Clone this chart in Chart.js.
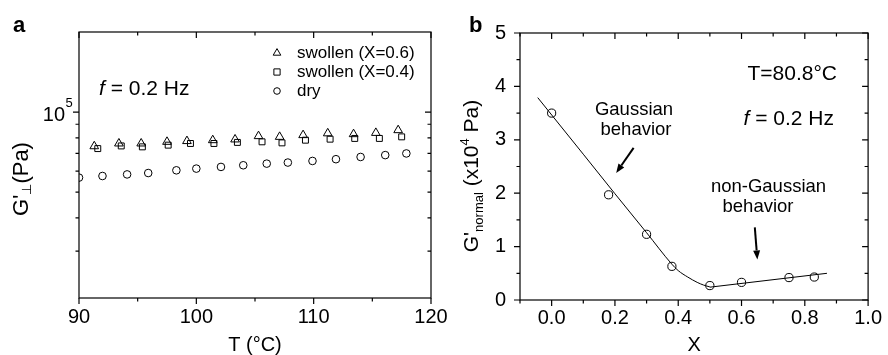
<!DOCTYPE html>
<html>
<head>
<meta charset="utf-8">
<script src="https://cdn.jsdelivr.net/npm/chart.js@4.4.1/dist/chart.umd.min.js"></script>
<style>
  body { margin: 0; background: #fff; }
  #wrap { position: relative; width: 888px; height: 355px; overflow: hidden; }
  #chartA { position: absolute; left: 0; top: 0; }
  #chartB { position: absolute; left: 444px; top: 0; }
</style>
</head>
<body>
<div id="wrap">
  <canvas id="chartA" width="470" height="355"></canvas>
  <canvas id="chartB" width="444" height="355"></canvas>
</div>
<script>
var FONT = "'Liberation Sans', Arial, Helvetica, sans-serif";

// (a) G'⊥ against temperature, f = 0.2 Hz
var tempX06 = [91.3, 93.4, 95.3, 97.5, 99.2, 101.4, 103.3, 105.3, 107.1, 109.1, 111.2, 113.4, 115.3, 117.2];
var gX06 = [74400, 76200, 76200, 77300, 77800, 78400, 78900, 81200, 80700, 81900, 83200, 82600, 83500, 85500];
var tempX04 = [91.6, 93.6, 95.4, 97.6, 99.5, 101.5, 103.5, 105.6, 107.3, 109.3, 111.4, 113.5, 115.6, 117.5];
var gX04 = [72900, 74600, 74000, 75100, 76200, 76200, 76900, 77300, 76600, 78400, 79100, 79600, 79600, 80700];
var tempDry = [90.0, 92.0, 94.1, 95.9, 98.3, 100.0, 102.1, 104.0, 106.0, 107.8, 109.9, 111.9, 114.0, 116.1, 117.9];
var gDry = [56700, 57500, 58300, 59000, 60400, 61300, 62200, 63100, 64000, 64600, 65500, 66500, 67800, 68900, 69900];

// (b) G'normal (x10^4 Pa) against X, T = 80.8 °C
var xFrac = [0.0, 0.18, 0.30, 0.38, 0.50, 0.60, 0.75, 0.83];
var gNormal = [3.5, 1.97, 1.23, 0.63, 0.27, 0.33, 0.42, 0.43];
var gaussFitX = [-0.044, 0.10, 0.20, 0.30, 0.38, 0.40, 0.43, 0.46, 0.48, 0.50];
var gaussFitY = [3.79, 2.73, 1.99, 1.26, 0.67, 0.55, 0.43, 0.33, 0.28, 0.245];
var nonGaussFitX = [0.50, 0.87];
var nonGaussFitY = [0.24, 0.50];

// axis ticks
var tTicks = [90, 100, 110, 120];
var tMinor = [95, 105, 115];
var gMajorA = [100000];
var gMinorA = [30000, 40000, 50000, 60000, 70000, 80000, 90000];
var xTicksB = [0.0, 0.2, 0.4, 0.6, 0.8, 1.0];
var xMinorB = [-0.1, 0.1, 0.3, 0.5, 0.7, 0.9];
var yTicksB = [0, 1, 2, 3, 4, 5];
var yMinorB = [0.5, 1.5, 2.5, 3.5, 4.5];

Chart.defaults.font.family = FONT;
Chart.defaults.color = '#000';

function pts(xs, ys) {
  return xs.map(function (x, i) { return { x: x, y: ys[i] }; });
}

function setTicks(list) {
  return function (scale) {
    scale.ticks = list.map(function (v) { return { value: v }; });
  };
}

// box frame with outward ticks on bottom/left and inward ticks on top/right
function frameTicks(t) {
  return {
    id: 'frameTicks',
    afterDatasetsDraw: function (chart) {
      var ctx = chart.ctx, a = chart.chartArea;
      var xs = chart.scales.x, ys = chart.scales.y;
      ctx.save();
      ctx.strokeStyle = '#000';
      ctx.lineWidth = 1.2;
      ctx.strokeRect(a.left, a.top, a.right - a.left, a.bottom - a.top);
      ctx.beginPath();
      function xTick(v, len) {
        var p = xs.getPixelForValue(v);
        ctx.moveTo(p, a.bottom); ctx.lineTo(p, a.bottom + len);
        ctx.moveTo(p, a.top); ctx.lineTo(p, a.top + len);
      }
      function yTick(v, len) {
        var p = ys.getPixelForValue(v);
        ctx.moveTo(a.left - len, p); ctx.lineTo(a.left, p);
        ctx.moveTo(a.right - len, p); ctx.lineTo(a.right, p);
      }
      t.xMajor.forEach(function (v) { xTick(v, 6); });
      t.xMinor.forEach(function (v) { xTick(v, 3.5); });
      t.yMajor.forEach(function (v) { yTick(v, 6); });
      t.yMinor.forEach(function (v) { yTick(v, 3.5); });
      ctx.stroke();
      ctx.restore();
    }
  };
}

// text made of runs with their own size / shift / style
function drawRuns(ctx, runs, x, y, align, vertical) {
  ctx.save();
  ctx.translate(x, y);
  if (vertical) ctx.rotate(-Math.PI / 2);
  var total = 0;
  runs.forEach(function (r) {
    ctx.font = (r.style || '') + ' ' + r.size + 'px ' + FONT;
    r.w = ctx.measureText(r.t).width;
    total += r.w;
  });
  var cx = align === 'center' ? -total / 2 : (align === 'right' ? -total : 0);
  ctx.fillStyle = '#000';
  ctx.textBaseline = 'alphabetic';
  ctx.textAlign = 'left';
  runs.forEach(function (r) {
    ctx.font = (r.style || '') + ' ' + r.size + 'px ' + FONT;
    ctx.fillText(r.t, cx, r.dy || 0);
    cx += r.w;
  });
  ctx.restore();
}

function arrow(ctx, x1, y1, x2, y2) {
  var ang = Math.atan2(y2 - y1, x2 - x1), len = 9, hw = 3.5;
  var bx = x2 - Math.cos(ang) * len, by = y2 - Math.sin(ang) * len;
  ctx.save();
  ctx.strokeStyle = '#000';
  ctx.fillStyle = '#000';
  ctx.lineWidth = 2;
  ctx.beginPath();
  ctx.moveTo(x1, y1); ctx.lineTo(bx, by);
  ctx.stroke();
  ctx.beginPath();
  ctx.moveTo(x2, y2);
  ctx.lineTo(bx + Math.sin(ang) * hw, by - Math.cos(ang) * hw);
  ctx.lineTo(bx - Math.sin(ang) * hw, by + Math.cos(ang) * hw);
  ctx.closePath();
  ctx.fill();
  ctx.restore();
}

function marker(style, r) {
  return {
    pointStyle: style, pointRadius: r, pointHoverRadius: r,
    pointBorderColor: '#000', pointBackgroundColor: 'rgba(0,0,0,0)',
    pointBorderWidth: 1, borderColor: '#000', clip: 0
  };
}

var axisFont = { family: FONT, size: 20 };
var titleFont = { family: FONT, size: 20, lineHeight: 1 };

var notesA = {
  id: 'notesA',
  afterDraw: function (chart) {
    var ctx = chart.ctx, ys = chart.scales.y;
    drawRuns(ctx, [{ t: 'a', size: 22, style: 'bold' }], 13, 32, 'left');
    drawRuns(ctx, [{ t: 'f', size: 21, style: 'italic' }, { t: ' = 0.2 Hz', size: 21 }], 99, 95, 'left');
    // 10^5 tick label
    var p = ys.getPixelForValue(gMajorA[0]);
    drawRuns(ctx, [{ t: '10', size: 20 }], 65, p + 8.5, 'right');
    drawRuns(ctx, [{ t: '5', size: 13 }], 65.5, p - 5, 'left');
    // y title
    drawRuns(ctx, [{ t: "G'", size: 22 }, { t: '\u22A5', size: 13, dy: 3 }, { t: '(Pa)', size: 22 }], 28, 179, 'center', true);
    // legend
    var items = chart.data.datasets;
    items.forEach(function (ds, i) {
      var y = 58 + i * 19;
      ctx.save();
      ctx.strokeStyle = '#000';
      ctx.fillStyle = 'rgba(0,0,0,0)';
      ctx.lineWidth = 1;
      Chart.helpers.drawPoint(ctx, { pointStyle: ds.pointStyle, radius: ds.pointStyle === 'circle' ? 3.3 : 4.4, rotation: 0, borderWidth: 1 }, 277, y - 5);
      ctx.restore();
      drawRuns(ctx, [{ t: ds.label, size: 17 }], 297, y, 'left');
    });
  }
};

new Chart(document.getElementById('chartA'), {
  type: 'scatter',
  data: {
    datasets: [
      Object.assign({ label: 'swollen (X=0.6)', data: pts(tempX06, gX06) }, marker('triangle', 5)),
      Object.assign({ label: 'swollen (X=0.4)', data: pts(tempX04, gX04) }, marker('rect', 4.2)),
      Object.assign({ label: 'dry', data: pts(tempDry, gDry) }, marker('circle', 3.8))
    ]
  },
  options: {
    responsive: false, animation: false, devicePixelRatio: 1,
    layout: { padding: { left: 0, top: 32, right: 39, bottom: 0 } },
    plugins: { legend: { display: false }, tooltip: { enabled: false } },
    scales: {
      x: {
        type: 'linear', min: 90, max: 120,
        afterFit: function (s) { s.height = 57; },
        afterBuildTicks: setTicks(tTicks),
        grid: { display: false, drawTicks: false }, border: { display: false },
        ticks: { font: axisFont, color: '#000', padding: 7, maxRotation: 0 },
        title: { display: true, text: 'T (\u00B0C)', font: titleFont, color: '#000', padding: { top: 0, bottom: 0 } }
      },
      y: {
        type: 'logarithmic', min: 20000, max: 200000,
        afterFit: function (s) { s.width = 79; },
        grid: { display: false, drawTicks: false }, border: { display: false },
        ticks: { display: false }
      }
    }
  },
  plugins: [frameTicks({ xMajor: tTicks, xMinor: tMinor, yMajor: gMajorA, yMinor: gMinorA }), notesA]
});

var notesB = {
  id: 'notesB',
  afterDraw: function (chart) {
    var ctx = chart.ctx, xs = chart.scales.x, ys = chart.scales.y;
    drawRuns(ctx, [{ t: 'b', size: 22, style: 'bold' }], 25, 32, 'left');
    drawRuns(ctx, [{ t: 'T=80.8\u00B0C', size: 21 }], 393, 80, 'right');
    drawRuns(ctx, [{ t: 'f', size: 21, style: 'italic' }, { t: ' = 0.2 Hz', size: 21 }], 390, 125, 'right');
    drawRuns(ctx, [{ t: 'Gaussian', size: 18.5 }], 190, 115, 'center');
    drawRuns(ctx, [{ t: 'behavior', size: 18.5 }], 192, 135, 'center');
    drawRuns(ctx, [{ t: 'non-Gaussian', size: 18.5 }], 324.5, 191.5, 'center');
    drawRuns(ctx, [{ t: 'behavior', size: 18.5 }], 314, 211.5, 'center');
    arrow(ctx, xs.getPixelForValue(0.259), ys.getPixelForValue(2.85), xs.getPixelForValue(0.204), ys.getPixelForValue(2.38));
    arrow(ctx, xs.getPixelForValue(0.642), ys.getPixelForValue(1.36), xs.getPixelForValue(0.65), ys.getPixelForValue(0.76));
    // y title
    drawRuns(ctx, [
      { t: "G'", size: 21 },
      { t: 'normal', size: 13, dy: 5 },
      { t: ' (x10', size: 21 },
      { t: '4', size: 13, dy: -9 },
      { t: ' Pa)', size: 21 }
    ], 34, 176, 'center', true);
  }
};

new Chart(document.getElementById('chartB'), {
  type: 'scatter',
  data: {
    datasets: [
      Object.assign({ label: 'G\'normal', data: pts(xFrac, gNormal) }, marker('circle', 4.1)),
      { label: 'Gaussian fit', data: pts(gaussFitX, gaussFitY), showLine: true, pointRadius: 0,
        borderColor: '#000', borderWidth: 1, cubicInterpolationMode: 'monotone' },
      { label: 'non-Gaussian fit', data: pts(nonGaussFitX, nonGaussFitY), showLine: true, pointRadius: 0,
        borderColor: '#000', borderWidth: 1, tension: 0 }
    ]
  },
  options: {
    responsive: false, animation: false, devicePixelRatio: 1,
    layout: { padding: { left: 0, top: 33, right: 16, bottom: 0 } },
    plugins: { legend: { display: false }, tooltip: { enabled: false } },
    scales: {
      x: {
        type: 'linear', min: -0.1, max: 1.0,
        afterFit: function (s) { s.height = 55; },
        afterBuildTicks: setTicks(xTicksB),
        grid: { display: false, drawTicks: false }, border: { display: false },
        ticks: { font: axisFont, color: '#000', padding: 6, maxRotation: 0,
          callback: function (v) { return Number(v).toFixed(1); } },
        title: { display: true, text: 'X', font: titleFont, color: '#000', padding: { top: 0, bottom: 0 } }
      },
      y: {
        type: 'linear', min: 0, max: 5,
        afterFit: function (s) { s.width = 76; },
        afterBuildTicks: setTicks(yTicksB),
        grid: { display: false, drawTicks: false }, border: { display: false },
        ticks: { font: axisFont, color: '#000', padding: 14 }
      }
    }
  },
  plugins: [frameTicks({ xMajor: xTicksB, xMinor: xMinorB, yMajor: yTicksB, yMinor: yMinorB }), notesB]
});
</script>
</body>
</html>
